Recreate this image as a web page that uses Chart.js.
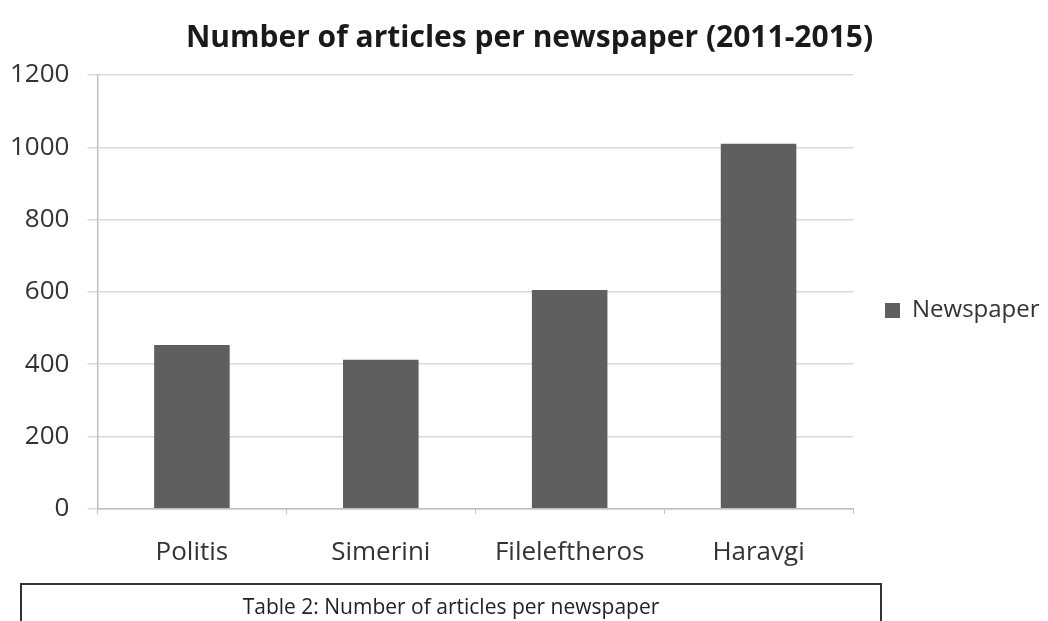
<!DOCTYPE html>
<html>
<head>
<meta charset="utf-8">
<script src="https://cdn.jsdelivr.net/npm/chart.js@4"></script>
<style>
  html, body { margin: 0; padding: 0; background: #fff; }
  #wrap { position: relative; width: 1048px; height: 621px; overflow: hidden; }
  #chart { position: absolute; left: 0; top: 0; }
  #caption {
    position: absolute; left: 20px; top: 583px; width: 862px; height: 60px;
    border: 2px solid #333; box-sizing: border-box;
    font-family: "Open Sans", sans-serif; font-size: 21px; color: #222;
    text-align: center; padding-top: 7px;
  }
</style>
</head>
<body>
<div id="wrap">
  <canvas id="chart" width="1048" height="621"></canvas>
  <div id="caption">Table 2: Number of articles per newspaper</div>
</div>
<script>
// Chart data
const newspapers = ['Politis', 'Simerini', 'Fileleftheros', 'Haravgi'];
const articleCounts = [453, 412, 605, 1010];
const yTicks = [0, 200, 400, 600, 800, 1000, 1200];

const barColor = '#5f5f5f';
const font = 'Open Sans';

const ctx = document.getElementById('chart').getContext('2d');
new Chart(ctx, {
    type: 'bar',
    data: {
        labels: newspapers,
        datasets: [{
            label: 'Newspaper',
            data: articleCounts,
            backgroundColor: barColor,
            barPercentage: 0.4,
            categoryPercentage: 1.0
        }]
    },
    options: {
        responsive: false,
        animation: false,
        layout: { padding: { left: 11, right: 0, top: 0, bottom: 0 } },
        plugins: {
            title: {
                display: true,
                text: 'Number of articles per newspaper (2011-2015)',
                color: '#1a1a1a',
                font: { family: font, size: 30, weight: 'bold' },
                padding: { top: 20, bottom: 19 }
            },
            legend: {
                position: 'right',
                maxWidth: 195,
                labels: {
                    boxWidth: 15,
                    boxHeight: 15,
                    padding: 32,
                    color: '#333',
                    font: { family: font, size: 24 }
                }
            },
            tooltip: { enabled: false }
        },
        scales: {
            x: {
                // extra room under the labels for the caption box
                afterFit: axis => { axis.height += 30; },
                grid: {
                    drawOnChartArea: false,
                    drawTicks: true,
                    tickLength: 5,
                    color: '#bfbfbf'
                },
                border: { color: '#bfbfbf', width: 1.5 },
                ticks: {
                    color: '#333',
                    padding: 23,
                    font: { family: font, size: 26 }
                }
            },
            y: {
                min: 0,
                max: 1200,
                afterBuildTicks: axis => { axis.ticks = yTicks.map(v => ({ value: v })); },
                // chart.js reserves the tick padding twice; take one back
                afterFit: axis => { axis.width -= 19; },
                grid: { color: '#d9d9d9', lineWidth: 1.5, tickLength: 10 },
                border: { color: '#bfbfbf', width: 1.5 },
                ticks: {
                    color: '#333',
                    padding: 18,
                    font: { family: font, size: 26 },
                    callback: v => String(v)
                }
            }
        }
    }
});
</script>
</body>
</html>
